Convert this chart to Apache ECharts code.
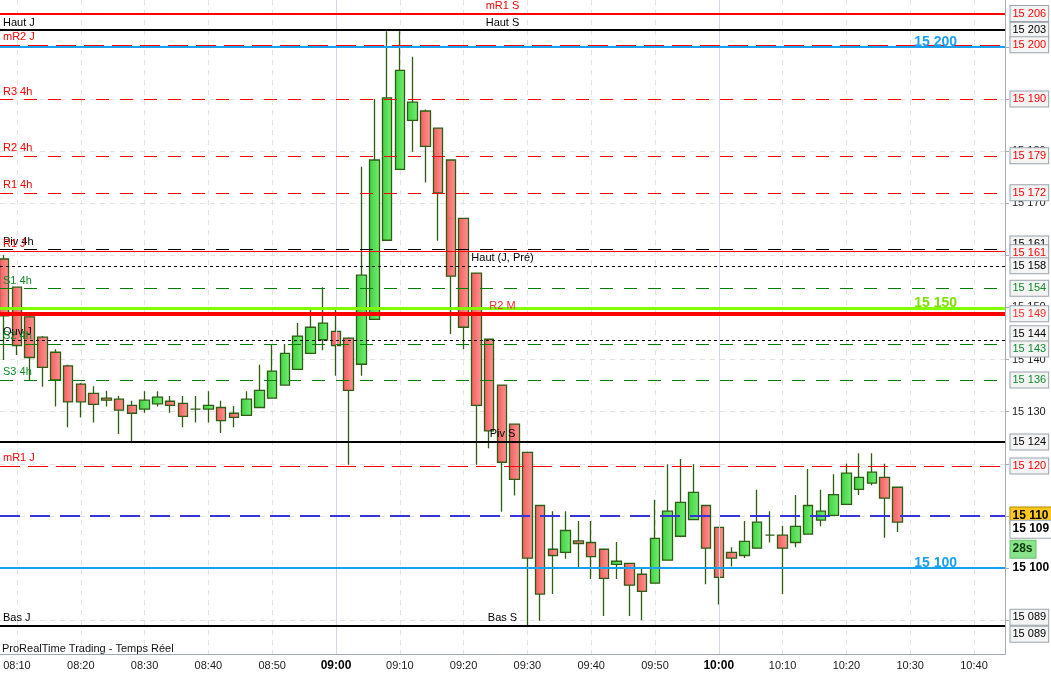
<!DOCTYPE html>
<html>
<head>
<meta charset="utf-8">
<script src="https://cdn.jsdelivr.net/npm/echarts@6/dist/echarts.min.js"></script>
<style>
html, body { margin: 0; padding: 0; background: #fff; }
#chart { width: 1051px; height: 674px; }
</style>
</head>
<body>
<div id="chart"></div>
<script>
// 2 minute candles, DAX-like future, 08:08 -> 10:28
var times = ['08:08', '08:10', '08:12', '08:14', '08:16', '08:18', '08:20', '08:22', '08:24', '08:26',
             '08:28', '08:30', '08:32', '08:34', '08:36', '08:38', '08:40', '08:42', '08:44', '08:46',
             '08:48', '08:50', '08:52', '08:54', '08:56', '08:58', '09:00', '09:02', '09:04', '09:06',
             '09:08', '09:10', '09:12', '09:14', '09:16', '09:18', '09:20', '09:22', '09:24', '09:26',
             '09:28', '09:30', '09:32', '09:34', '09:36', '09:38', '09:40', '09:42', '09:44', '09:46',
             '09:48', '09:50', '09:52', '09:54', '09:56', '09:58', '10:00', '10:02', '10:04', '10:06',
             '10:08', '10:10', '10:12', '10:14', '10:16', '10:18', '10:20', '10:22', '10:24', '10:26',
             '10:28'];
var opens = [15159.3, 15153.9, 15148.2, 15144.3, 15141.4, 15138.8, 15135.3, 15133.5, 15132.6, 15132.4,
             15131.2, 15130.5, 15131.5, 15132.0, 15131.6, 15130.5, 15130.5, 15130.8, 15129.7, 15129.3,
             15130.8, 15132.6, 15135.1, 15138.1, 15141.2, 15143.8, 15145.4, 15144.1, 15139.1, 15147.7,
             15162.9, 15176.5, 15185.9, 15187.7, 15184.4, 15178.3, 15167.1, 15156.6, 15143.9, 15135.1,
             15127.6, 15122.2, 15112.0, 15103.6, 15103.0, 15105.2, 15104.9, 15103.6, 15100.7, 15100.9,
             15098.8, 15097.1, 15101.5, 15106.1, 15109.3, 15112.0, 15107.8, 15103.0, 15102.4, 15103.8,
             15106.3, 15106.3, 15104.9, 15106.5, 15109.2, 15110.1, 15112.2, 15115.1, 15116.3, 15117.4,
             15115.5];
var closes = [15148.4, 15142.7, 15140.4, 15138.5, 15136.1, 15131.9, 15131.9, 15131.4, 15132.2, 15130.3,
              15129.7, 15132.2, 15132.8, 15131.2, 15129.1, 15130.5, 15131.2, 15128.3, 15128.9, 15132.4,
              15134.1, 15137.8, 15141.2, 15144.5, 15146.2, 15147.0, 15142.7, 15134.1, 15156.2, 15178.3,
              15190.2, 15195.5, 15189.4, 15180.9, 15172.0, 15156.0, 15146.2, 15131.2, 15126.3, 15120.3,
              15117.0, 15101.9, 15095.0, 15102.4, 15107.2, 15104.7, 15102.2, 15098.0, 15101.3, 15096.7,
              15095.5, 15105.7, 15110.9, 15112.6, 15114.5, 15103.8, 15098.2, 15101.9, 15105.1, 15108.8,
              15106.3, 15103.8, 15108.0, 15112.0, 15110.9, 15114.1, 15118.2, 15117.4, 15118.4, 15113.4,
              15108.8];
var lows = [15139.9, 15140.9, 15136.1, 15134.8, 15131.0, 15127.0, 15128.9, 15127.9, 15131.0, 15125.7,
            15124.1, 15129.8, 15131.0, 15129.8, 15127.0, 15127.9, 15127.9, 15125.9, 15127.0, 15129.2,
            15130.8, 15132.6, 15135.1, 15138.1, 15141.2, 15141.8, 15136.9, 15119.8, 15136.9, 15147.7,
            15162.9, 15176.5, 15179.9, 15174.0, 15162.8, 15144.9, 15142.0, 15119.8, 15123.0, 15110.8,
            15113.9, 15089.0, 15089.9, 15095.0, 15101.8, 15100.2, 15097.9, 15090.8, 15097.9, 15090.8,
            15090.0, 15097.1, 15101.5, 15105.9, 15109.3, 15096.9, 15093.0, 15100.3, 15101.9, 15103.8,
            15104.9, 15095.0, 15104.0, 15106.5, 15108.0, 15110.1, 15112.2, 15114.0, 15115.9, 15105.8,
            15106.9];
var highs = [15160.0, 15154.0, 15148.5, 15144.5, 15142.0, 15139.0, 15135.5, 15134.9, 15134.0, 15133.0,
             15132.1, 15133.9, 15133.9, 15133.0, 15133.0, 15133.0, 15133.9, 15132.1, 15131.1, 15133.9,
             15139.0, 15143.0, 15143.0, 15147.0, 15149.7, 15153.9, 15149.7, 15144.3, 15177.0, 15190.0,
             15203.0, 15203.0, 15198.1, 15188.0, 15184.4, 15178.3, 15167.1, 15156.6, 15143.9, 15135.1,
             15127.6, 15122.2, 15112.0, 15110.9, 15110.9, 15109.0, 15109.0, 15103.6, 15105.0, 15100.9,
             15099.8, 15113.1, 15119.9, 15120.9, 15119.9, 15112.0, 15107.8, 15104.0, 15109.0, 15115.0,
             15110.9, 15108.1, 15114.0, 15119.0, 15115.0, 15118.0, 15120.0, 15122.0, 15122.0, 15120.0,
             15115.5];

// horizontal levels (pivots, highs/lows, alerts)
var levelValues = [15206.4, 15203.2, 15200.4, 15200.0, 15190.0, 15179.1, 15172.0, 15161.2, 15160.7, 15158.0,
                   15153.7, 15149.9, 15148.8, 15143.8, 15143.0, 15136.1, 15124.2, 15119.6, 15110.0, 15100.0,
                   15089.0, 15089.0];
var levelKinds = ['redBold', 'black', 'redJ', 'blue', 'red4h', 'red4h', 'red4h', 'black4h', 'redThin', 'dotted',
                  'green4h', 'lime', 'redThick', 'dotted', 'green4h', 'green4h', 'black', 'redJ', 'price', 'blue',
                  'black', 'black'];
var levelLeft = ['', 'Haut J', 'mR2 J', '', 'R3 4h', 'R2 4h', 'R1 4h', 'Piv 4h', 'R1 J', '',
                 'S1 4h', '', '', 'Ouv J', 'S2 4h', 'S3 4h', '', 'mR1 J', '', '',
                 'Bas J', ''];
var levelMid = ['mR1 S', 'Haut S', '', '', '', '', '', '', '', 'Haut (J, Pré)',
                '', '', 'R2 M', '', '', '', 'Piv S', '', '', '',
                '', 'Bas S'];
var levelRight = ['', '', '', '15 200', '', '', '', '', '', '',
                  '', '15 150', '', '', '', '', '', '', '', '15 100',
                  '', ''];

var lastPrice = 15108.8;
var countdown = '28s';

var hourTicks = [490, 500, 510, 520, 530, 540, 550, 560, 570, 580, 590, 600, 610, 620, 630, 640];
var priceTicks = [15090, 15100, 15110, 15120, 15130, 15140, 15150, 15160, 15170, 15180, 15190, 15200];
var priceLabels = [15090, 15110, 15120, 15130, 15140, 15150, 15160, 15170, 15180, 15190, 15200];
var hourLines = [540, 600];

var xMin = 487.34, xMax = 644.86, yMin = 15083.5, yMax = 15209.0;

function toMin(t) { var p = t.split(':'); return +p[0] * 60 + +p[1]; }
function toClock(m) {
    var h = Math.floor(m / 60), mm = Math.round(m % 60);
    return (h < 10 ? '0' : '') + h + ':' + (mm < 10 ? '0' : '') + mm;
}
function fmt(v) { var s = String(Math.round(v)); return s.slice(0, s.length - 3) + ' ' + s.slice(-3); }

var kindStyle = {
    redBold:  { line: { color: '#ff0000', width: 2, type: 'solid' }, text: '#ff0000', box: true },
    black:    { line: { color: '#000000', width: 2, type: 'solid' }, text: '#000000', box: true },
    redJ:     { line: { color: '#ff0000', width: 1, type: [20, 8] }, text: '#ff0000', box: true },
    blue:     { line: { color: '#1aa0f0', width: 2, type: 'solid' }, text: '#1aa0f0', box: false },
    red4h:    { line: { color: '#ff0000', width: 1, type: [13, 11] }, text: '#ff0000', box: true },
    black4h:  { line: { color: '#000000', width: 1, type: [13, 11] }, text: '#000000', box: true },
    redThin:  { line: { color: '#ff0000', width: 1, type: 'solid' }, text: '#ff0000', box: true },
    dotted:   { line: { color: '#000000', width: 1, type: [3, 3] }, text: '#000000', box: true },
    green4h:  { line: { color: '#008000', width: 1, type: [13, 11] }, text: '#0f8a2a', box: true },
    lime:     { line: { color: '#80ff00', width: 3, type: 'solid' }, text: '#7ee000', box: false },
    redThick: { line: { color: '#ff0000', width: 4, type: 'solid' }, text: '#ff2a2a', box: true },
    price:    { line: { color: '#3434d8', width: 2, type: [20, 10] }, text: '#000000', box: false }
};
// vertical shifts (px) so stacked price tags do not overlap
var boxNudge = { 7: -5, 8: 1, 13: -6, 14: 5, 20: -8, 21: 9 };

var boxLabel = {
    show: true, position: 'right', distance: 5, fontSize: 11, lineHeight: 12,
    backgroundColor: '#f4f4f4', borderColor: '#9aa3ab', borderWidth: 1, padding: [2, 2, 1, 2]
};
var hidden = { color: 'rgba(0,0,0,0)', width: 1, type: 'solid' };

var candles = times.map(function (t, i) {
    return [toMin(t), opens[i], closes[i], lows[i], highs[i]];
});

var lineData = [];
var textData = [];
var tagData = [];
levelValues.forEach(function (v, i) {
    var k = kindStyle[levelKinds[i]];
    lineData.push({ yAxis: v, lineStyle: k.line, label: { show: false } });
    if (levelLeft[i]) {
        textData.push({ yAxis: v, lineStyle: hidden,
            label: { show: true, position: 'insideStartTop', distance: [3, 2], formatter: levelLeft[i], color: k.text, fontSize: 11 } });
    }
    if (levelMid[i]) {
        textData.push({ yAxis: v, lineStyle: hidden,
            label: { show: true, position: 'insideMiddleTop', distance: [0, 2], formatter: levelMid[i], color: k.text, fontSize: 11 } });
    }
    if (levelRight[i]) {
        textData.push({ yAxis: v, lineStyle: hidden,
            label: { show: true, position: 'insideEndTop', distance: [48, -2], formatter: levelRight[i], color: k.text, fontSize: 14, fontWeight: 'bold' } });
    }
    if (k.box) {
        tagData.push({ coord: [xMax, v], label: Object.assign({}, boxLabel, {
            formatter: fmt(v), color: k.text, offset: [0, boxNudge[i] || 0] }) });
    }
    if (levelKinds[i] === 'price') {
        tagData.push({ coord: [xMax, v], label: Object.assign({}, boxLabel, {
            formatter: fmt(v), color: '#000', fontSize: 12, fontWeight: 'bold', lineHeight: 14,
            backgroundColor: '#ffc81e', borderColor: '#b08a00', padding: [2, 3, 1, 2] }) });
    }
    if (levelKinds[i] === 'blue' && levelRight[i] === '15 100') {
        tagData.push({ coord: [xMax, v], label: { show: true, position: 'right', distance: 7,
            formatter: fmt(v), color: '#000', fontSize: 12, fontWeight: 'bold' } });
    }
});
tagData.push({ coord: [xMax, lastPrice], label: Object.assign({}, boxLabel, {
    formatter: fmt(lastPrice), color: '#000', fontSize: 12, fontWeight: 'bold', lineHeight: 14,
    backgroundColor: '#ffffff', padding: [2, 3, 1, 2], offset: [0, 7] }) });
tagData.push({ coord: [xMax, lastPrice], label: Object.assign({}, boxLabel, {
    formatter: countdown, color: '#0b360b', fontSize: 12, fontWeight: 'bold', lineHeight: 14,
    backgroundColor: '#88e488', borderColor: '#70c070', padding: [2, 3, 1, 2], offset: [0, 27] }) });

var chart = echarts.init(document.getElementById('chart'));
var option = {
    animation: false,
    textStyle: { fontFamily: 'Liberation Sans, Arial, sans-serif' },
    title: {
        text: 'ProRealTime Trading - Temps Réel',
        left: 2, top: 643, padding: 0,
        textStyle: { fontSize: 11, fontWeight: 'normal', color: '#111' }
    },
    grid: { left: 0, right: 46, top: 0, bottom: 20 },
    xAxis: {
        type: 'value', min: xMin, max: xMax,
        axisLine: { show: true, lineStyle: { color: '#a4a8b4' } },
        axisTick: { show: false, customValues: hourTicks },
        axisLabel: {
            customValues: hourTicks, color: '#1a1a1a', fontSize: 11, margin: 6,
            formatter: function (v) {
                var s = toClock(v);
                return hourLines.indexOf(v) >= 0 ? '{b|' + s + '}' : s;
            },
            rich: { b: { fontSize: 12, fontWeight: 'bold', color: '#000' } }
        },
        splitLine: { show: true, lineStyle: { color: '#e2e2e2', type: [5, 5] } }
    },
    yAxis: {
        type: 'value', position: 'right', min: yMin, max: yMax,
        axisLine: { show: true, lineStyle: { color: '#a4a8b4' } },
        axisTick: { show: true, length: 4, customValues: priceTicks, lineStyle: { color: '#a4a8b4' } },
        axisLabel: { customValues: priceLabels, color: '#1a1a1a', fontSize: 11, margin: 7, formatter: fmt },
        splitLine: { show: true, lineStyle: { color: '#e2e2e2', type: [5, 5] } }
    },
    series: [
        {
            type: 'line', data: [], z: 1, silent: true,
            markLine: {
                silent: true, symbol: ['none', 'none'], animation: false,
                label: { show: false },
                lineStyle: { color: '#d6d6ea', width: 1, type: 'solid' },
                data: hourLines.map(function (m) { return { xAxis: m }; })
            }
        },
        {
            type: 'candlestick', z: 2,
            data: candles,
            encode: { x: 0, y: [1, 2, 3, 4] },
            barWidth: 10,
            emphasis: { disabled: true },
            itemStyle: {
                color: new echarts.graphic.LinearGradient(0, 0, 1, 0, [
                    { offset: 0, color: '#40cf40' }, { offset: 1, color: '#74f074' }]),
                color0: new echarts.graphic.LinearGradient(0, 0, 1, 0, [
                    { offset: 0, color: '#f25c5c' }, { offset: 1, color: '#ff9696' }]),
                borderColor: '#2c5d12', borderColor0: '#2c5d12', borderWidth: 1.3
            }
        },
        {
            type: 'line', data: [], z: 4, silent: true,
            markLine: {
                silent: true, symbol: ['none', 'none'], animation: false,
                data: lineData
            },
            markPoint: {
                silent: true, symbol: 'rect', symbolSize: 1, animation: false,
                itemStyle: { color: 'transparent' },
                data: tagData
            }
        },
        {
            type: 'line', data: [], z: 5, silent: true,
            markLine: {
                silent: true, symbol: ['none', 'none'], animation: false,
                data: textData
            }
        }
    ]
};
option && chart.setOption(option);
</script>
</body>
</html>
